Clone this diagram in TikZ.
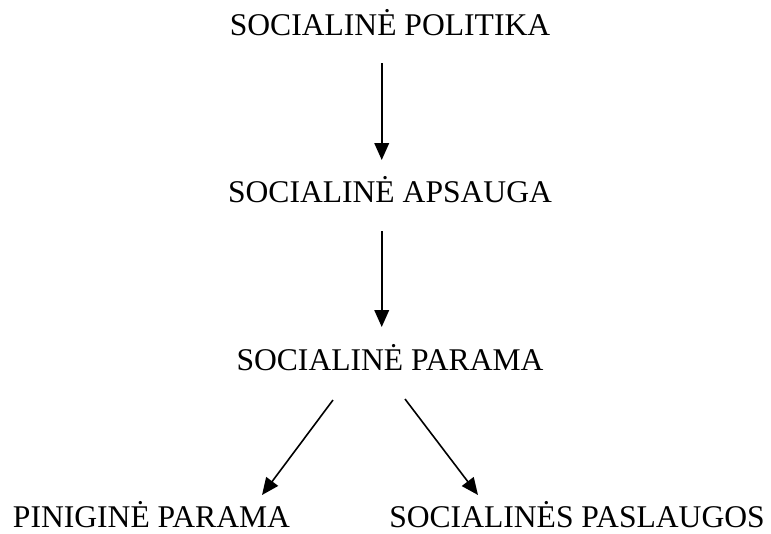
\documentclass[tikz,border=0pt]{standalone}
\usepackage{fontspec}
\setmainfont{Liberation Serif}
\usetikzlibrary{arrows.meta}

\begin{document}
\begin{tikzpicture}[x=0.75pt,y=-0.75pt,
  lbl/.style={inner sep=0pt, anchor=base, font=\fontsize{23.7}{28}\selectfont},
  arr/.style={-{Triangle[length=12.75pt,width=11pt]}, line width=1.2pt}]
\useasboundingbox (0,0) rectangle (771,533);
\node[lbl] (pol) at (390,35) {SOCIALINĖ POLITIKA};
\node[lbl] (aps) at (390,202) {SOCIALINĖ APSAUGA};
\node[lbl] (par) at (390,370) {SOCIALINĖ PARAMA};
\node[lbl] (pin) at (151.5,527) {PINIGINĖ PARAMA};
\node[lbl] (pas) at (577,527) {SOCIALINĖS PASLAUGOS};
% arrows
\draw[arr] ([xshift=-6.2pt,yshift=-21pt]pol.base) -- ([xshift=-6.2pt,yshift=31.5pt]aps.base);
\draw[arr] ([xshift=-6.2pt,yshift=-21.75pt]aps.base) -- ([xshift=-6.2pt,yshift=32.25pt]par.base);
\draw[arr] ([xshift=-42.75pt,yshift=-22.5pt]par.base) -- ([xshift=82.9pt,yshift=24pt]pin.base);
\draw[arr] ([xshift=11.25pt,yshift=-21.75pt]par.base) -- ([xshift=-74.25pt,yshift=24pt]pas.base);
\end{tikzpicture}
\end{document}
